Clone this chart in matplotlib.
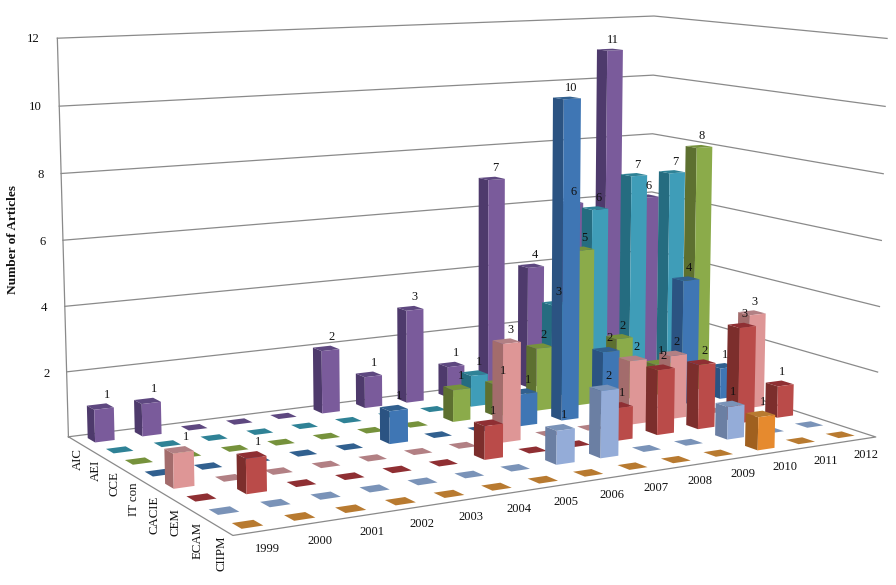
#!/usr/bin/env python3
"""
3D column chart of articles per journal and year
"""

import matplotlib
matplotlib.use('Agg')
import matplotlib.pyplot as plt
from mpl_toolkits.mplot3d import proj3d

years = ['1999', '2000', '2001', '2002', '2003', '2004', '2005',
         '2006', '2007', '2008', '2009', '2010', '2011', '2012']
series = ['AIC', 'AEI', 'CCE', 'IT con', 'CACIE', 'CEM', 'ECAM', 'CIIPM']

AIC = [1, 1, 0, 0, 0, 2, 1, 3, 1, 7, 4, 6, 11, 6]
AEI = [0, 0, 0, 0, 0, 0, 0, 0, 1, 0, 3, 6, 7, 7]
CCE = [0, 0, 0, 0, 0, 0, 0, 1, 1, 2, 5, 2, 1, 8]
ITcon = [0, 0, 0, 0, 0, 1, 0, 0, 1, 10, 2, 0, 4, 1]
CACIE = [1, 0, 0, 0, 0, 0, 0, 3, 0, 0, 2, 2, 0, 3]
CEM = [0, 1, 0, 0, 0, 0, 1, 0, 0, 1, 2, 2, 3, 1]
ECAM = [0, 0, 0, 0, 0, 0, 0, 1, 2, 0, 0, 1, 0, 0]
CIIPM = [0, 0, 0, 0, 0, 0, 0, 0, 0, 0, 0, 1, 0, 0]
values = [AIC, AEI, CCE, ITcon, CACIE, CEM, ECAM, CIIPM]

z_ticks = [2, 4, 6, 8, 10, 12]

front_colors = ['#7A5B9B', '#3F9DB8', '#8BAB4A', '#3F76B4', '#DE9696', '#BA4B49', '#94ACD8', '#E68A2E']
side_colors = ['#4E3A6C', '#256C80', '#5D7030', '#2B5382', '#A36C6C', '#7C2E2C', '#6B7FA3', '#A0601F']
top_colors = ['#5E4880', '#2F8296', '#76923C', '#31608F', '#B28084', '#8F2F33', '#7A93B8', '#B87A30']

FONT = 'Liberation Serif'
GRID = '#8a8a8a'
NONE = (0, 0, 0, 0)
W, H = 896, 585

fig = plt.figure(figsize=(W / 100, H / 100), dpi=100)

# camera fitted against the corners of the reference floor and walls
left, right, top, bottom = 17.3, 903.1, -190.6, 695.2
ax = fig.add_axes([left / W, 1 - bottom / H, (right - left) / W, (bottom - top) / H],
                  projection='3d', computed_zorder=False)
ax.set_xlim(0, 14)
ax.set_ylim(0, 8)
ax.set_zlim(0, 12)
ax.set_proj_type('persp', focal_length=0.4856)
ax.view_init(elev=9.074, azim=-119.844, roll=-0.017)
ax.set_box_aspect((1.7593, 1.0089, 1.0))
ax.set_axis_off()
M = ax.get_proj()


def label(x, y, z, s, **kw):
    # 3D position, flat text
    u, v, _ = proj3d.proj_transform(x, y, z, M)
    kw.setdefault('fontsize', 8.9)
    ax.text2D(u, v, s, transform=ax.transData, family=FONT, color='#111111', zorder=600, **kw)


# walls and floor
for z in z_ticks:
    ax.plot([0, 14, 14], [8, 8, 0], [z, z, z], color=GRID, lw=0.9, zorder=1)
    label(-0.36, 8, z, str(z), ha='right', va='center', fontsize=9.2)
ax.plot([0, 0], [8, 8], [0, 12], color=GRID, lw=0.9, zorder=1)
ax.plot([0, 14, 14, 0, 0], [8, 8, 0, 0, 8], [0, 0, 0, 0, 0], color=GRID, lw=0.9, zorder=1)

# columns, far ones first
bar_w = 0.41
order = 2
for i, row in enumerate(values):
    y = 7.5 - i
    for j in range(len(years) - 1, -1, -1):
        v = row[j]
        if v > 0:
            faces = [NONE, top_colors[i], front_colors[i], NONE, side_colors[i], NONE]
        else:
            faces = [NONE, top_colors[i], NONE, NONE, NONE, NONE]
        ax.bar3d(j + 0.5 - bar_w / 2, y - bar_w / 2, 0, bar_w, bar_w, v,
                 color=faces, shade=False, zorder=order)
        order += 1

# value labels above the columns
for i, row in enumerate(values):
    y = 7.5 - i
    for j, v in enumerate(row):
        if v > 0:
            label(j + 0.72, y + bar_w / 2, v + 0.08, str(v), ha='center', va='bottom')

for j, yr in enumerate(years):
    label(j + 0.5, -0.3, -0.35, yr, ha='center', va='center', fontsize=9)
for i, name in enumerate(series):
    label(0, 7.5 - i, -0.2, name, ha='center', va='top', rotation=90, fontsize=9.3)

fig.text(13.5 / W, 1 - 240 / H, 'Number of Articles', rotation=90, ha='center', va='center',
         family=FONT, fontweight='bold', fontsize=9.6, color='#111111')

fig.savefig('out.png', dpi=100)
